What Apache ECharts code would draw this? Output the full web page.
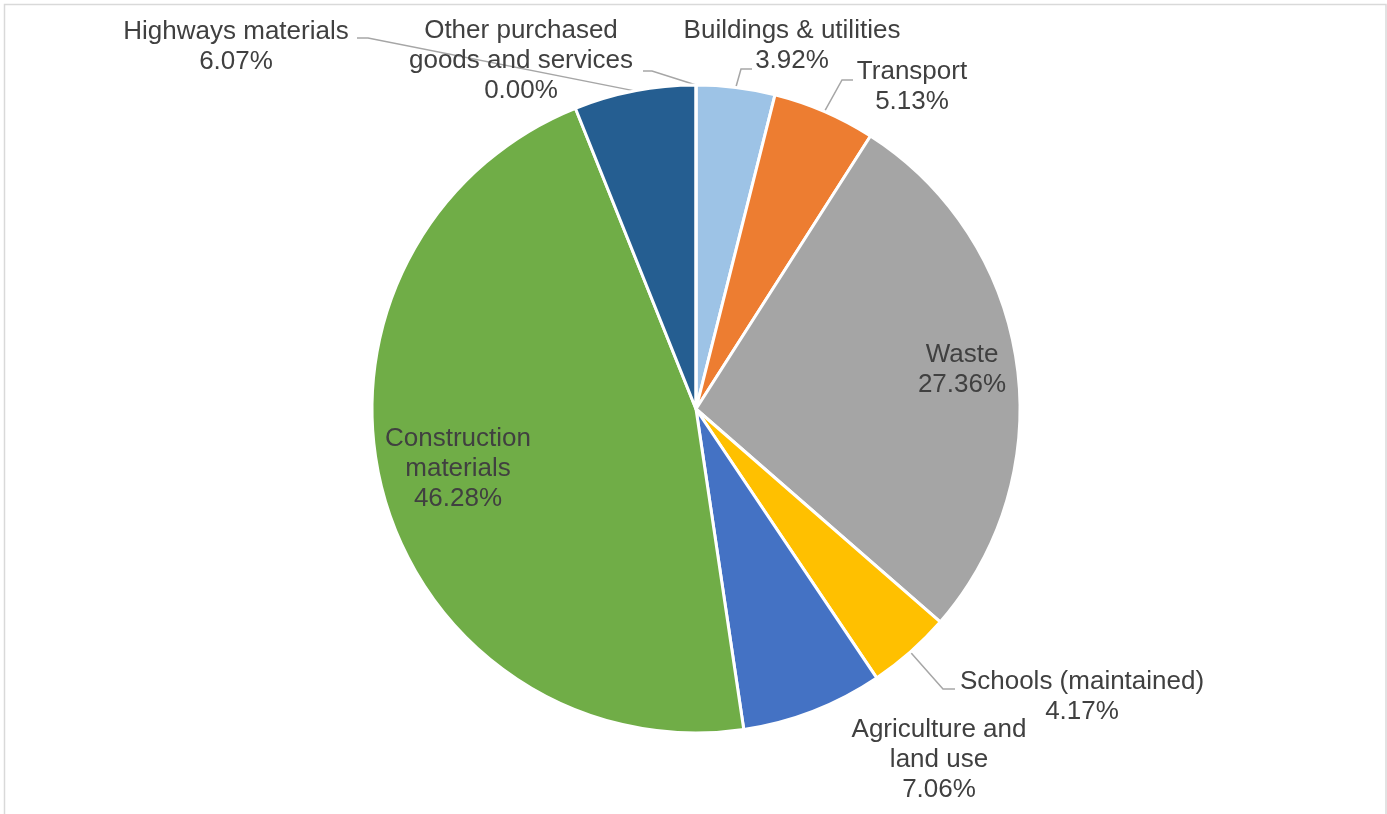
<!DOCTYPE html>
<html>
<head>
<meta charset="utf-8">
<script src="https://cdn.jsdelivr.net/npm/echarts@6/dist/echarts.min.js"></script>
<style>
  html, body { margin: 0; padding: 0; background: #ffffff; }
  #chart { width: 1387px; height: 814px; }
</style>
</head>
<body>
<div id="chart"></div>
<script>
// Emission shares by category (percent), clockwise from 12 o'clock
const categories = [
  'Buildings & utilities',
  'Transport',
  'Waste',
  'Schools (maintained)',
  'Agriculture and\nland use',
  'Construction\nmaterials',
  'Highways materials',
  'Other purchased\ngoods and services'
];
const shares = [3.92, 5.13, 27.36, 4.17, 7.06, 46.28, 6.07, 0.00];
const sliceColors = ['#9dc3e6', '#ed7d31', '#a5a5a5', '#ffc000', '#4472c4', '#70ad47', '#255e91', '#9e480e'];

// Where each label block sits, and where its leader line meets the text
const labelPlacement = [
  { x: 792, y: 46, bend: [741, 69], end: [752, 69] },
  { x: 912, y: 87, bend: [842, 80], end: [853, 80] },
  { x: 962, y: 370, inside: true },
  { x: 1082, y: 697, bend: [943, 689], end: [955, 689] },
  { x: 939, y: 760 },
  { x: 458, y: 469, inside: true },
  { x: 236, y: 47, bend: [368, 38], end: [357, 38] },
  { x: 521, y: 61, bend: [652, 71], end: [643, 71] }
];

const chart = echarts.init(document.getElementById('chart'), null, { renderer: 'canvas' });

const pieData = categories.map(function (name, i) {
  const place = labelPlacement[i];
  return {
    name: name,
    value: shares[i],
    itemStyle: { color: sliceColors[i] },
    label: { position: place.inside ? 'inside' : 'outside' },
    labelLine: { show: !!place.end }
  };
});

chart.setOption({
  backgroundColor: '#ffffff',
  animation: false,
  graphic: [{
    type: 'rect',
    shape: { x: 4.5, y: 4.5, width: 1381.5, height: 830 },
    style: { fill: 'none', stroke: '#d9d9d9', lineWidth: 1.5 },
    silent: true,
    z: 0
  }],
  series: [{
    type: 'pie',
    center: [696, 409],
    radius: 324,
    startAngle: 90,
    clockwise: true,
    avoidLabelOverlap: false,
    data: pieData,
    itemStyle: { borderColor: '#ffffff', borderWidth: 3 },
    label: {
      show: true,
      color: '#404040',
      fontFamily: '"Liberation Sans", Arial, sans-serif',
      fontSize: 26,
      lineHeight: 30,
      align: 'center',
      formatter: function (p) { return p.name + '\n' + p.value.toFixed(2) + '%'; }
    },
    labelLine: {
      lineStyle: { color: '#a6a6a6', width: 1.5 },
      smooth: false
    },
    labelLayout: function (params) {
      const place = labelPlacement[params.dataIndex];
      const out = { x: place.x, y: place.y, align: 'center', verticalAlign: 'middle' };
      if (place.end && params.labelLinePoints) {
        out.labelLinePoints = [params.labelLinePoints[0].slice(), place.bend, place.end];
      }
      return out;
    },
    emphasis: { disabled: true }
  }]
});
</script>
</body>
</html>
